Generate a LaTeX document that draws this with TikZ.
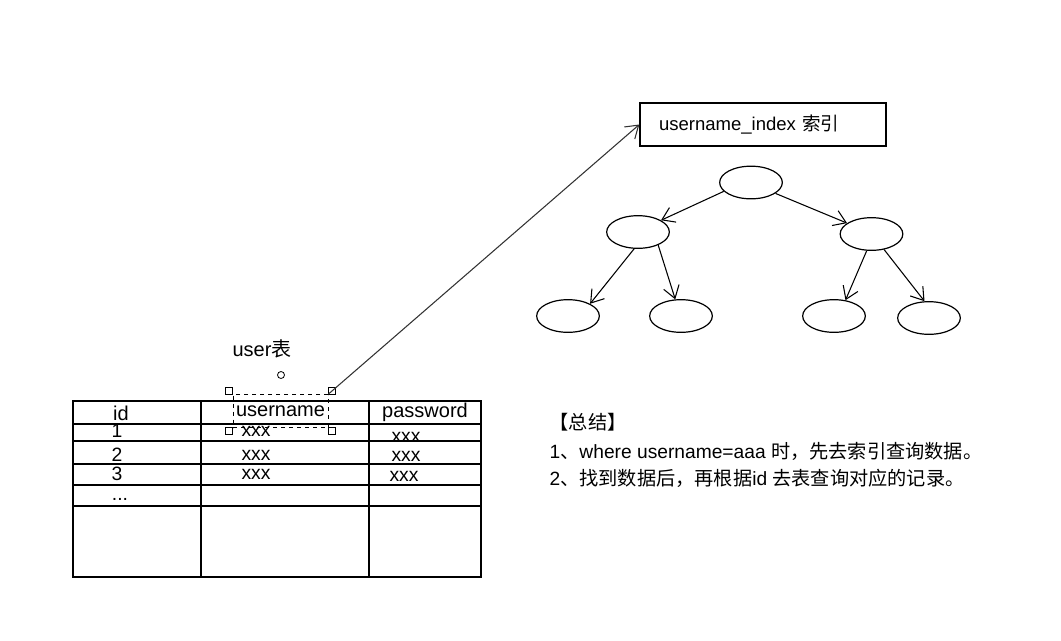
\documentclass[tikz,border=0pt]{standalone}
\usepackage{fontspec}
\setmainfont{Liberation Sans}
\newfontfamily\cjk{Noto Sans CJK SC}
\usetikzlibrary{arrows.meta,shapes.geometric}

\begin{document}
\begin{tikzpicture}[x=0.75pt, y=-0.75pt, line width=0.9pt,
    txt/.style={inner sep=0pt, font=\fontsize{14.5}{16}\selectfont},
    mano/.style={inner sep=0pt, font=\fontsize{15}{18}\selectfont},
    nota/.style={inner sep=0pt, font=\fontsize{14.4}{16}\selectfont, anchor=west},
    nodo/.style={draw, ellipse, minimum width=47pt, minimum height=24.5pt},
    flecha/.style={-{Straight Barb[length=9pt,width=12pt]}, line width=0.8pt},
    asa/.style={draw, rectangle, minimum size=5pt, inner sep=0pt, line width=0.6pt}]
    \useasboundingbox (0,0) rectangle (1061,640);

    % Tabla user
    \draw (73,401) rectangle (481,577);
    \draw (201,401) -- (201,577);
    \draw (369,401) -- (369,577);
    \foreach \y in {424,441,464,485,506}
        \draw (73,\y) -- (481,\y);

    % Cabecera, columna seleccionada y datos
    \node[mano] (tabla) at (262,349) {user{\cjk 表}};
    \node[mano] (hid) at (121,413) {id};
    \node[mano, draw, dashed, line width=0.7pt, minimum width=71.25pt, minimum height=24.75pt] (huser) at (280.5,411) {username};
    \node[mano] (hpass) at (425,412) {password};
    \foreach \hx/\hy [count=\i] in {229/391, 332/391, 229/431, 332/431}
        \node[asa] (asa\i) at (\hx,\hy) {};
    \node[draw, circle, minimum size=5.25pt, inner sep=0pt, line width=0.6pt] (giro) at (281,375) {};
    \foreach \n/\y in {1/431, 2/455, 3/474}
        \node[txt] (id\n) at (117,\y) {\n};
    \node[txt] (idmas) at (120,499) {...};
    \foreach \n/\y in {1/431, 2/455, 3/474}
        \node[txt] (u\n) at (256,\y) {xxx};
    \foreach \n/\x/\y in {1/406/437, 2/406/456, 3/404/476}
        \node[txt] (p\n) at (\x,\y) {xxx};

    % Indice y arbol
    \node[txt, font=\fontsize{13.9}{16}\selectfont, draw, line width=1pt, minimum width=184.5pt, minimum height=32.25pt, text width=156pt, align=left] (idx) at (763,124.5) {username\_index {\cjk 索引}};
    \draw[flecha, black!80] (huser.north east) -- (idx.west);

    \node[nodo] (raiz) at (751,182.5) {};
    \node[nodo] (izq) at (638,232) {};
    \node[nodo] (der) at (871.5,234) {};
    \node[nodo] (hizq1) at (568,316) {};
    \node[nodo] (hizq2) at (681,316) {};
    \node[nodo] (hder1) at (834,316) {};
    \node[nodo] (hder2) at (929,318) {};

    \draw[flecha] (raiz.198) -- (izq.27);
    \draw[flecha] (raiz.-24) -- (der.156);
    \draw[flecha] (izq.-103) -- (hizq1.29);
    \draw[flecha] (izq.-33) -- (hizq2.109);
    \draw[flecha] (der.-106) -- (hder1.54);
    \draw[flecha] (der.-51) -- (hder2.105);

    % Resumen
    \node[nota] (resumen) at (549,422) {\cjk 【总结】};
    \node[nota] (paso1) at (549,451) {1{\cjk 、}where username=aaa {\cjk 时，先去索引查询数据。}};
    \node[nota] (paso2) at (549,478) {2{\cjk 、找到数据后，再根据}id {\cjk 去表查询对应的记录。}};
\end{tikzpicture}
\end{document}
